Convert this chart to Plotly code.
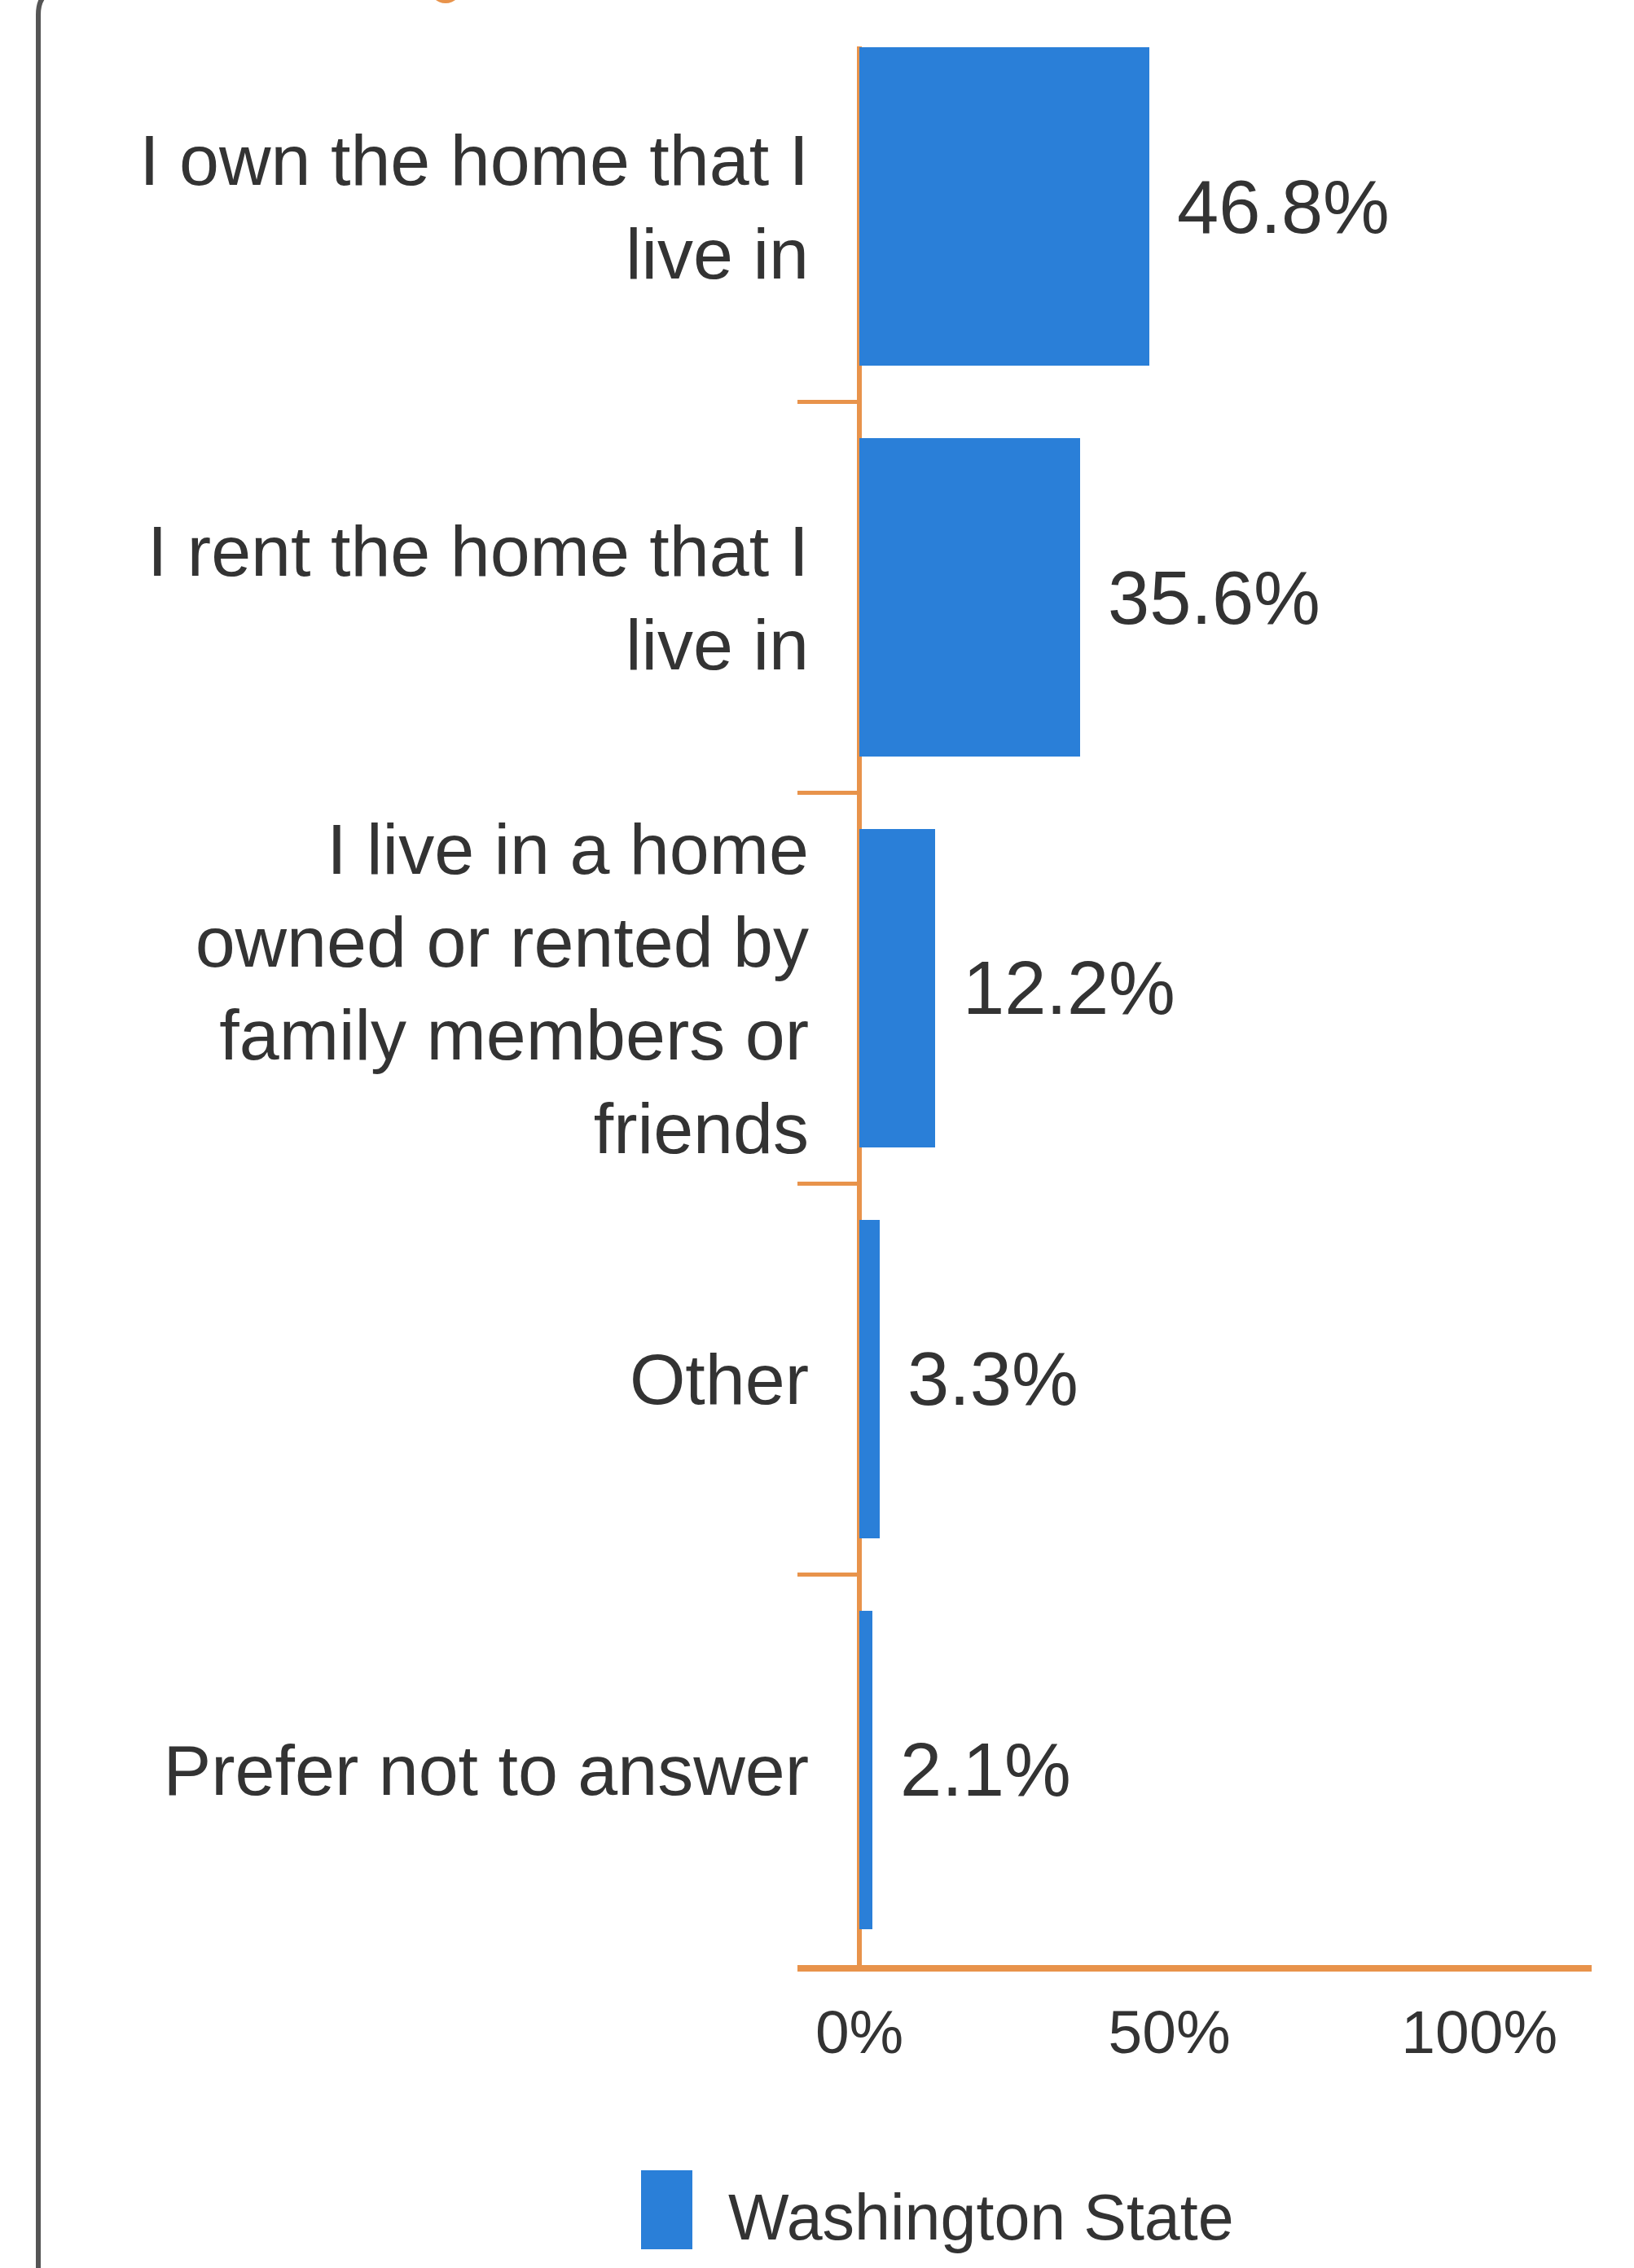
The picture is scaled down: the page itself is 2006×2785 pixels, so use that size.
import plotly.graph_objects as go

# Housing situation survey responses
categories = [
    "I own the home that I<br>live in",
    "I rent the home that I<br>live in",
    "I live in a home<br>owned or rented by<br>family members or<br>friends",
    "Other",
    "Prefer not to answer",
]
values = [46.8, 35.6, 12.2, 3.3, 2.1]
series_name = "Washington State"
x_tick_vals = [0, 50, 100]
x_tick_text = ["0%", "50%", "100%"]

ORANGE = "#E8934B"
BLUE = "#2A7FD8"
TEXT = "#333333"
FONT = "Liberation Sans, Arial, sans-serif"

W, H = 2006, 2785
L, R, T, B = 979, 52, 57, 372
PW, PH = W - L - R, H - T - B


def px(x):
    return (x - L) / PW


def py(y):
    return (H - B - y) / PH


fig = go.Figure()
fig.add_trace(go.Bar(
    x=values,
    y=categories,
    orientation="h",
    name=series_name,
    marker=dict(color=BLUE, line=dict(width=0)),
    width=0.815,
    showlegend=False,
    hoverinfo="skip",
))

# value labels to the right of each bar
for cat, val in zip(categories, values):
    fig.add_annotation(
        x=val, y=cat, xref="x", yref="y",
        text=f"{val:.1f}%", showarrow=False,
        xanchor="left", yanchor="middle", xshift=32,
        font=dict(family=FONT, size=92, color=TEXT),
    )

# legend: swatch + series name
fig.add_shape(type="rect", xref="paper", yref="paper",
              x0=px(787), x1=px(850), y0=py(2762), y1=py(2665),
              fillcolor=BLUE, line=dict(width=0))
fig.add_annotation(x=px(892), y=py(2722), xref="paper", yref="paper",
                   text=series_name, showarrow=False,
                   xanchor="left", yanchor="middle",
                   font=dict(family=FONT, size=79, color=TEXT))

# card border (left edge with rounded top corner)
bx = 47
fig.add_shape(type="path", xref="paper", yref="paper",
              path=(f"M {px(bx)},{py(2900)} L {px(bx)},{py(18)} "
                    f"Q {px(bx)},{py(-14)} {px(bx + 32)},{py(-14)} "
                    f"L {px(400)},{py(-14)}"),
              line=dict(color="#555555", width=6))

# title icon peeking above the card
fig.add_shape(type="circle", xref="paper", yref="paper",
              x0=px(527), x1=px(567), y0=py(4), y1=py(-36),
              fillcolor=ORANGE, line=dict(width=0))

fig.update_layout(
    width=W, height=H, autosize=False,
    margin=dict(l=L, r=R, t=T, b=B, pad=0),
    paper_bgcolor="white", plot_bgcolor="white",
    bargap=0,
    font=dict(family=FONT, color=TEXT),
    xaxis=dict(
        range=[-10, 118.1],
        tickvals=x_tick_vals, ticktext=x_tick_text,
        tickfont=dict(family=FONT, size=75, color=TEXT),
        ticks="", ticklabelstandoff=10,
        showgrid=False,
        zeroline=True, zerolinecolor=ORANGE, zerolinewidth=6,
        showline=True, linecolor=ORANGE, linewidth=8,
        layer="above traces",
        fixedrange=True,
    ),
    yaxis=dict(
        type="category",
        categoryorder="array", categoryarray=categories,
        range=[4.5, -0.41],
        tickfont=dict(family=FONT, size=88, color=TEXT),
        ticks="inside", tickson="boundaries",
        ticklen=76, tickwidth=5, tickcolor=ORANGE,
        ticklabelstandoff=-15,
        showgrid=False, showline=False, zeroline=False,
        fixedrange=True,
    ),
)

fig.write_html("out.html")
